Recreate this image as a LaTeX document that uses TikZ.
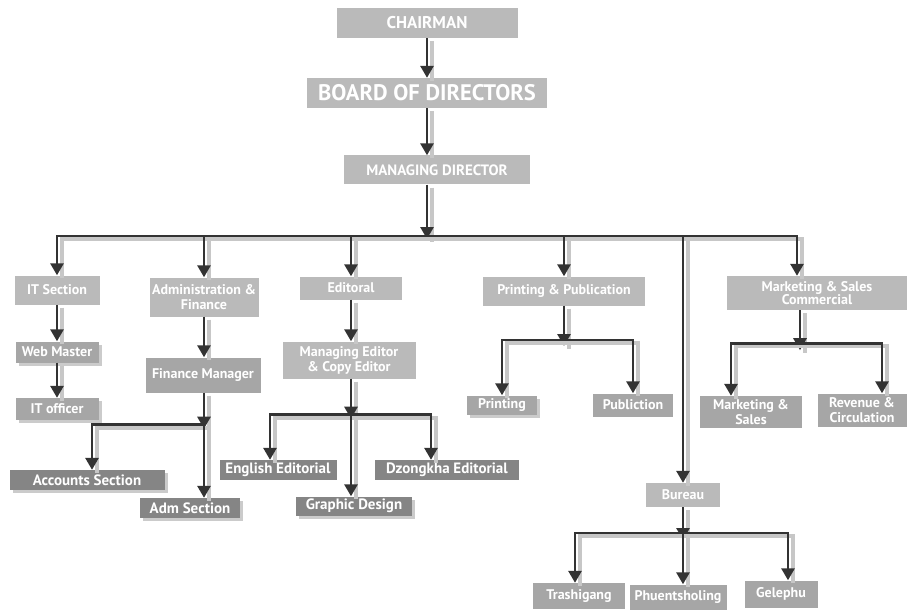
\documentclass[tikz,border=0pt]{standalone}
\usepackage{fontspec}
\setmainfont{PT Sans}
\usetikzlibrary{arrows.meta,shadows}

\begin{document}
\begin{tikzpicture}[x=1pt,y=-1pt,
  sz/.style 2 args={minimum width=#1pt,minimum height=#2pt},
  box/.style={fill=black!27,text=white,align=center,inner sep=0pt,
    font=\bfseries\fontsize{14}{15}\selectfont},
  dbox/.style={box,fill=black!48,font=\bfseries\fontsize{15}{15}\selectfont},
  mbox/.style={box,fill=black!35},
  shad/.style={drop shadow={shadow xshift=3pt,shadow yshift=-3pt,fill=black!40}},
  arr/.style={line width=2.8pt,draw=black!80,line join=miter,
    -{Triangle[length=12pt,width=13pt]},
    preaction={draw=black!22,line width=4pt,-,transform canvas={shift={(5pt,-3pt)}}}}]
  \fill[white] (0,0) rectangle (912,609);
  \node[box,sz={181}{30},font=\bfseries\fontsize{17}{17}\selectfont] (chair) at (427,23) {CHAIRMAN};
  \node[box,sz={240}{30},font=\bfseries\fontsize{22.5}{22.5}\selectfont] (board) at (427,93) {BOARD OF DIRECTORS};
  \node[box,sz={186}{29},font=\bfseries\fontsize{15}{15}\selectfont] (md) at (437,170) {MANAGING DIRECTOR};
  \coordinate (bus) at (425,236);
  \node[box,sz={85}{29}] (it) at (57,290) {IT Section};
  \node[box,sz={109}{39}] (adm) at (204,297) {Administration \&\\Finance};
  \node[box,sz={102}{23}] (edit) at (351,288) {Editoral};
  \node[box,sz={162}{29}] (print) at (564,291) {Printing \& Publication};
  \node[box,sz={180}{34},font=\bfseries\fontsize{14}{13}\selectfont] (mkt) at (817,293) {Marketing \& Sales\\Commercial};
  \node[mbox,shad,sz={83}{21}] (web) at (57,352) {Web Master};
  \node[mbox,shad,sz={83}{22}] (ito) at (57,409) {IT officer};
  \node[mbox,sz={115}{35}] (fin) at (203,375) {Finance Manager};
  \node[box,sz={133}{37}] (med) at (349,360) {Managing Editor\\\& Copy Editor};
  \node[dbox,shad,sz={155}{20}] (acc) at (87,480) {Accounts Section};
  \node[dbox,shad,sz={100}{20}] (admsec) at (190,508) {Adm Section};
  \node[dbox,sz={117}{20}] (eng) at (278,470) {English Editorial};
  \node[dbox,shad,sz={116}{19}] (gra) at (354,506) {Graphic Design};
  \node[dbox,sz={144}{20}] (dzo) at (447,470) {Dzongkha Editorial};
  \node[mbox,shad,sz={70}{19}] (prn) at (502,405) {Printing};
  \node[mbox,sz={80}{23}] (pub) at (633,405) {Publiction};
  \node[mbox,sz={102}{32}] (mks) at (751,412) {Marketing \&\\Sales};
  \node[mbox,sz={89}{33}] (rev) at (862,410) {Revenue \&\\Circulation};
  \node[box,sz={74}{24}] (bur) at (683,495) {Bureau};
  \node[mbox,sz={92}{26}] (tra) at (579,596) {Trashigang};
  \node[mbox,sz={97}{25}] (phu) at (678,597) {Phuentsholing};
  \node[mbox,sz={73}{27}] (gel) at (781,594) {Gelephu};
  \draw[arr] (chair.south-|board) -- (board);
  \draw[arr] (board) -- (board|-md.north);
  \draw[arr] (board|-md.south) -- ([yshift=-3pt]board|-bus);
  \draw[arr] (bus) -| (it);
  \draw[arr] (bus) -| ([xshift=-20pt]mkt.north);
  \draw[arr] (adm|-bus) -- (adm);
  \draw[arr] (edit|-bus) -- (edit);
  \draw[arr] (print|-bus) -- (print);
  \draw[arr] (bur|-bus) -- (bur);
  \draw[arr] (it) -- (web);
  \draw[arr] (web) -- (ito);
  \draw[arr] (adm) -- (adm|-fin.north);
  \draw[arr] (adm|-fin.south) -- ++(0,36) coordinate (fb);
  \draw[arr] ([yshift=4pt]fb) -| ([xshift=5pt]acc.north);
  \draw[arr] ([yshift=4pt]fb) -- (fb|-admsec.north);
  \draw[arr] (edit) -- (edit|-med.north);
  \draw[arr] (edit|-med.south) -- ++(0,40) coordinate (eb);
  \draw[arr] ([yshift=4pt]eb) -| ([xshift=-8pt]eng.north);
  \draw[arr] ([yshift=4pt]eb) -| ([xshift=-16pt]dzo.north);
  \draw[arr] ([yshift=4pt]eb) -- (eb|-gra.north);
  \draw[arr] (print) -- ++(0,55) coordinate (pb);
  \draw[arr] ([yshift=6pt]pb) -| (prn);
  \draw[arr] ([yshift=6pt]pb) -| (pub);
  \draw[arr] ([xshift=-17pt]mkt.south) -- ++(0,40) coordinate (mb);
  \draw[arr] ([yshift=7pt]mb) -| ([xshift=-20pt]mks.north);
  \draw[arr] ([yshift=7pt]mb) -| ([xshift=20pt]rev.north);
  \draw[arr] (bur) -- ++(0,45) coordinate (bb);
  \draw[arr] ([yshift=7pt]bb) -| ([xshift=-4pt]tra.north);
  \draw[arr] ([yshift=7pt]bb) -| ([xshift=7pt]gel.north);
  \draw[arr] ([yshift=7pt]bb) -- (bb|-phu.north);
\end{tikzpicture}
\end{document}
